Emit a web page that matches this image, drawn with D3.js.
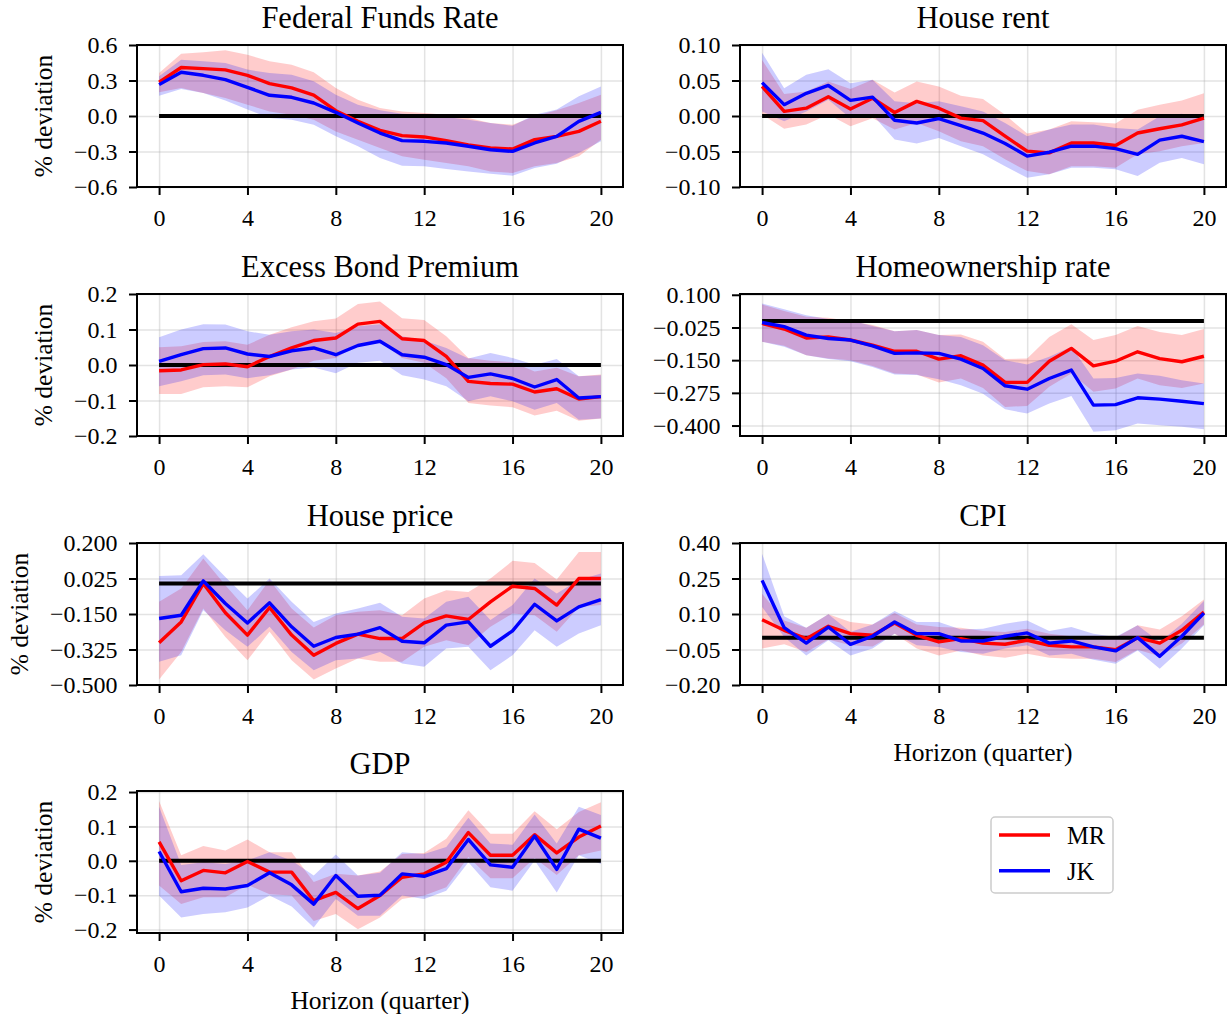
<!DOCTYPE html>
<html lang="en">
<head>
<meta charset="utf-8">
<title>impulse responses</title>
<script src="https://cdn.jsdelivr.net/npm/d3@7"></script>
<style>
  body { margin: 0; background: #fff; }
  svg { font-family: "Liberation Serif", "DejaVu Serif", serif; }
</style>
</head>
<body>
<script>
    // ---- data ----
    var horizons = [0, 1, 2, 3, 4, 5, 6, 7, 8, 9, 10, 11, 12, 13, 14, 15, 16, 17, 18, 19, 20];
    var xTicks = [0, 4, 8, 12, 16, 20];
    var seriesNames = ['MR', 'JK'];

    // Federal Funds Rate
    var ffrMR   = [0.285, 0.41, 0.40, 0.39, 0.344, 0.273, 0.237, 0.177, 0.045, -0.045, -0.121, -0.166, -0.177, -0.208, -0.245, -0.27, -0.279, -0.2, -0.172, -0.13, -0.045];
    var ffrMRhi = [0.363, 0.527, 0.538, 0.555, 0.518, 0.462, 0.434, 0.369, 0.237, 0.138, 0.068, 0.039, 0.025, 0.011, -0.017, -0.059, -0.073, -0.003, 0.048, 0.11, 0.18];
    var ffrMRlo = [0.2, 0.237, 0.194, 0.152, 0.096, 0.039, 0.011, -0.031, -0.13, -0.2, -0.27, -0.34, -0.369, -0.397, -0.425, -0.468, -0.482, -0.425, -0.397, -0.34, -0.2];
    var ffrJK   = [0.265, 0.37, 0.344, 0.307, 0.242, 0.175, 0.158, 0.11, 0.031, -0.059, -0.144, -0.208, -0.214, -0.228, -0.256, -0.285, -0.299, -0.228, -0.172, -0.045, 0.031];
    var ffrJKhi = [0.335, 0.476, 0.462, 0.448, 0.392, 0.363, 0.349, 0.293, 0.18, 0.096, 0.048, 0.02, 0.011, -0.008, -0.031, -0.059, -0.082, 0.011, 0.054, 0.166, 0.25];
    var ffrJKlo = [0.172, 0.228, 0.194, 0.13, 0.054, -0.017, -0.031, -0.073, -0.172, -0.256, -0.355, -0.42, -0.425, -0.448, -0.468, -0.487, -0.504, -0.439, -0.403, -0.313, -0.214];
    var ffrTicks = [-0.6, -0.3, 0, 0.3, 0.6];
    var ffrDomain = [-0.6, 0.6];

    // House rent
    var rentMR   = [0.0416, 0.0065, 0.011, 0.027, 0.0098, 0.025, 0.005, 0.0206, 0.011, -0.003, -0.0065, -0.0285, -0.0495, -0.052, -0.038, -0.038, -0.0416, -0.024, -0.018, -0.0126, -0.003];
    var rentMRhi = [0.079, 0.031, 0.0346, 0.0486, 0.0379, 0.051, 0.033, 0.0486, 0.0416, 0.0285, 0.0238, 0.0019, -0.0248, -0.019, -0.0075, -0.0089, -0.0107, 0.0089, 0.016, 0.022, 0.032];
    var rentMRlo = [0.002, -0.018, -0.012, 0.002, -0.0145, -0.003, -0.019, -0.0098, -0.0215, -0.0355, -0.0425, -0.061, -0.0776, -0.082, -0.0706, -0.0706, -0.073, -0.054, -0.0495, -0.0425, -0.038];
    var rentJK   = [0.047, 0.016, 0.032, 0.043, 0.022, 0.0266, -0.006, -0.0098, -0.0037, -0.0136, -0.024, -0.0388, -0.0565, -0.051, -0.0425, -0.0425, -0.046, -0.054, -0.034, -0.0285, -0.036];
    var rentJKhi = [0.089, 0.039, 0.058, 0.066, 0.046, 0.051, 0.0206, 0.018, 0.0206, 0.0136, 0.0065, -0.0098, -0.0285, -0.019, -0.012, -0.012, -0.0168, -0.019, -0.0005, 0.003, -0.003];
    var rentJKlo = [0.0065, -0.0075, 0.0065, 0.0229, -0.003, 0.0019, -0.033, -0.0388, -0.031, -0.0425, -0.054, -0.0706, -0.087, -0.082, -0.073, -0.073, -0.075, -0.0846, -0.066, -0.059, -0.068];
    var rentTicks = [-0.1, -0.05, 0, 0.05, 0.1];
    var rentDomain = [-0.1, 0.1];

    // Excess Bond Premium
    var ebpMR   = [-0.016, -0.014, 0.001, 0.003, -0.005, 0.024, 0.048, 0.069, 0.076, 0.115, 0.123, 0.074, 0.069, 0.024, -0.046, -0.052, -0.054, -0.076, -0.067, -0.096, -0.089];
    var ebpMRhi = [0.05, 0.053, 0.065, 0.067, 0.057, 0.085, 0.106, 0.123, 0.131, 0.172, 0.179, 0.132, 0.127, 0.081, 0.02, 0.012, 0.008, -0.018, -0.008, -0.032, -0.027];
    var ebpMRlo = [-0.082, -0.082, -0.063, -0.06, -0.063, -0.032, -0.013, 0.012, 0.02, 0.057, 0.067, 0.02, 0.006, -0.037, -0.107, -0.114, -0.119, -0.142, -0.129, -0.157, -0.151];
    var ebpJK   = [0.01, 0.029, 0.046, 0.048, 0.031, 0.024, 0.04, 0.048, 0.029, 0.055, 0.067, 0.029, 0.022, 0.001, -0.035, -0.025, -0.038, -0.062, -0.041, -0.093, -0.089];
    var ebpJKhi = [0.078, 0.1, 0.115, 0.114, 0.095, 0.085, 0.095, 0.1, 0.09, 0.109, 0.115, 0.081, 0.069, 0.048, 0.018, 0.034, 0.02, 0.001, 0.017, -0.032, -0.029];
    var ebpJKlo = [-0.06, -0.046, -0.029, -0.027, -0.037, -0.029, -0.013, -0.007, -0.023, 0.006, 0.012, -0.029, -0.041, -0.06, -0.102, -0.088, -0.102, -0.126, -0.107, -0.154, -0.151];
    var ebpTicks = [-0.2, -0.1, 0, 0.1, 0.2];
    var ebpDomain = [-0.2, 0.2];

    // Homeownership rate
    var homeMR   = [-0.0097, -0.031, -0.065, -0.061, -0.073, -0.093, -0.116, -0.116, -0.146, -0.133, -0.169, -0.235, -0.235, -0.154, -0.105, -0.172, -0.154, -0.118, -0.144, -0.156, -0.135];
    var homeMRhi = [0.063, 0.038, 0.016, 0.012, -0.001, -0.016, -0.039, -0.035, -0.054, -0.052, -0.08, -0.146, -0.144, -0.061, -0.013, -0.073, -0.054, -0.019, -0.042, -0.054, -0.031];
    var homeMRlo = [-0.08, -0.095, -0.131, -0.144, -0.15, -0.172, -0.201, -0.205, -0.235, -0.22, -0.256, -0.329, -0.325, -0.252, -0.201, -0.271, -0.258, -0.22, -0.246, -0.256, -0.239];
    var homeJK   = [-0.006, -0.022, -0.054, -0.067, -0.073, -0.095, -0.124, -0.122, -0.124, -0.146, -0.182, -0.248, -0.261, -0.22, -0.188, -0.322, -0.32, -0.294, -0.299, -0.307, -0.316];
    var homeJKhi = [0.067, 0.045, 0.022, 0.007, 0.003, -0.019, -0.039, -0.035, -0.054, -0.061, -0.093, -0.15, -0.167, -0.137, -0.099, -0.22, -0.218, -0.201, -0.21, -0.227, -0.239];
    var homeJKlo = [-0.08, -0.099, -0.131, -0.146, -0.154, -0.176, -0.205, -0.207, -0.223, -0.246, -0.278, -0.338, -0.354, -0.316, -0.287, -0.424, -0.418, -0.392, -0.399, -0.405, -0.414];
    var homeTicks = [-0.4, -0.275, -0.15, -0.025, 0.1];
    var homeDomain = [-0.44, 0.103];

    // House price
    var hpMR   = [-0.292, -0.189, 0.0, -0.144, -0.254, -0.118, -0.254, -0.353, -0.295, -0.249, -0.271, -0.271, -0.194, -0.159, -0.177, -0.09, -0.013, -0.024, -0.106, 0.025, 0.025];
    var hpMRhi = [-0.09, -0.024, 0.124, -0.008, -0.131, 0.017, -0.123, -0.217, -0.156, -0.139, -0.131, -0.156, -0.074, -0.033, -0.041, 0.025, 0.112, 0.102, 0.02, 0.156, 0.156];
    var hpMRlo = [-0.473, -0.337, -0.123, -0.263, -0.378, -0.238, -0.378, -0.473, -0.419, -0.369, -0.386, -0.386, -0.312, -0.279, -0.304, -0.213, -0.148, -0.156, -0.238, -0.115, -0.106];
    var hpJK   = [-0.172, -0.156, 0.0135, -0.098, -0.194, -0.095, -0.213, -0.309, -0.266, -0.249, -0.217, -0.284, -0.292, -0.205, -0.189, -0.309, -0.233, -0.102, -0.184, -0.115, -0.079];
    var hpJKhi = [0.037, 0.041, 0.145, 0.033, -0.074, 0.025, -0.09, -0.189, -0.148, -0.123, -0.095, -0.164, -0.172, -0.09, -0.065, -0.18, -0.106, 0.025, -0.049, 0.017, 0.05];
    var hpJKlo = [-0.386, -0.353, -0.131, -0.23, -0.312, -0.213, -0.337, -0.427, -0.378, -0.369, -0.337, -0.394, -0.41, -0.32, -0.312, -0.427, -0.353, -0.23, -0.312, -0.246, -0.205];
    var hpTicks = [-0.5, -0.325, -0.15, 0.025, 0.2];
    var hpDomain = [-0.5, 0.2];

    // CPI
    var cpiMR   = [0.076, 0.031, -0.004, 0.048, 0.017, 0.01, 0.062, 0.01, -0.018, -0.004, -0.023, -0.028, -0.011, -0.032, -0.039, -0.039, -0.051, 0.0, -0.023, 0.031, 0.108];
    var cpiMRhi = [0.186, 0.073, 0.042, 0.099, 0.066, 0.056, 0.104, 0.056, 0.045, 0.042, 0.028, 0.024, 0.038, 0.017, 0.006, 0.006, 0.0, 0.052, 0.034, 0.09, 0.161];
    var cpiMRlo = [-0.046, -0.028, -0.061, -0.008, -0.032, -0.037, 0.017, -0.046, -0.075, -0.054, -0.075, -0.085, -0.068, -0.085, -0.089, -0.089, -0.103, -0.051, -0.079, -0.025, 0.056];
    var cpiJK   = [0.242, 0.042, -0.023, 0.045, -0.028, 0.006, 0.066, 0.017, 0.017, -0.014, -0.014, 0.006, 0.02, -0.023, -0.014, -0.039, -0.056, 0.0, -0.079, 0.006, 0.104];
    var cpiJKhi = [0.355, 0.09, 0.042, 0.099, 0.024, 0.056, 0.113, 0.066, 0.066, 0.034, 0.038, 0.059, 0.073, 0.028, 0.045, 0.017, 0.003, 0.052, -0.018, 0.059, 0.155];
    var cpiJKlo = [0.13, 0.003, -0.075, -0.011, -0.075, -0.046, 0.017, -0.032, -0.039, -0.061, -0.068, -0.046, -0.032, -0.075, -0.068, -0.093, -0.11, -0.054, -0.131, -0.046, 0.052];
    var cpiTicks = [-0.2, -0.05, 0.1, 0.25, 0.4];
    var cpiDomain = [-0.2, 0.4];

    // GDP
    var gdpMR   = [0.055, -0.058, -0.028, -0.035, -0.002, -0.033, -0.033, -0.116, -0.092, -0.139, -0.101, -0.048, -0.038, -0.004, 0.082, 0.016, 0.016, 0.076, 0.023, 0.069, 0.101];
    var gdpMRhi = [0.174, 0.016, 0.043, 0.03, 0.062, 0.025, 0.025, -0.062, -0.038, -0.043, -0.031, 0.02, 0.023, 0.064, 0.147, 0.079, 0.079, 0.144, 0.092, 0.142, 0.17];
    var gdpMRlo = [-0.072, -0.126, -0.106, -0.106, -0.07, -0.097, -0.101, -0.175, -0.155, -0.199, -0.165, -0.111, -0.101, -0.077, 0.011, -0.051, -0.051, 0.008, -0.041, 0.016, 0.03];
    var gdpJK   = [0.027, -0.09, -0.08, -0.082, -0.072, -0.035, -0.07, -0.126, -0.043, -0.103, -0.1, -0.038, -0.045, -0.023, 0.062, -0.012, -0.019, 0.072, -0.025, 0.092, 0.066];
    var gdpJKhi = [0.157, -0.012, -0.004, -0.009, 0.001, 0.025, 0.001, -0.043, 0.018, -0.043, -0.035, 0.025, 0.02, 0.04, 0.125, 0.05, 0.047, 0.135, 0.05, 0.157, 0.133];
    var gdpJKlo = [-0.101, -0.165, -0.155, -0.15, -0.136, -0.101, -0.133, -0.194, -0.111, -0.16, -0.16, -0.101, -0.111, -0.087, -0.004, -0.077, -0.087, 0.001, -0.092, 0.016, -0.009];
    var gdpTicks = [-0.2, -0.1, 0, 0.1, 0.2];
    var gdpDomain = [-0.21, 0.203];

    // ---- layout ----
    var svgWidth = 1230, svgHeight = 1014;
    var colLeft = [137, 740], plotW = 486, plotH = 142;
    var rowTop = [45, 294, 543, 791];
    var xDomain = [-1, 21];
    var color = d3.scaleOrdinal(seriesNames, ['#ff0000', '#0000ff']);

    var panels = [
        { title: 'Federal Funds Rate', row: 0, col: 0, domain: ffrDomain, ticks: ffrTicks, fmt: '.1f',
          mr: ffrMR, mrLo: ffrMRlo, mrHi: ffrMRhi, jk: ffrJK, jkLo: ffrJKlo, jkHi: ffrJKhi, ylabel: true },
        { title: 'House rent', row: 0, col: 1, domain: rentDomain, ticks: rentTicks, fmt: '.2f',
          mr: rentMR, mrLo: rentMRlo, mrHi: rentMRhi, jk: rentJK, jkLo: rentJKlo, jkHi: rentJKhi },
        { title: 'Excess Bond Premium', row: 1, col: 0, domain: ebpDomain, ticks: ebpTicks, fmt: '.1f',
          mr: ebpMR, mrLo: ebpMRlo, mrHi: ebpMRhi, jk: ebpJK, jkLo: ebpJKlo, jkHi: ebpJKhi, ylabel: true },
        { title: 'Homeownership rate', row: 1, col: 1, domain: homeDomain, ticks: homeTicks, fmt: '.3f',
          mr: homeMR, mrLo: homeMRlo, mrHi: homeMRhi, jk: homeJK, jkLo: homeJKlo, jkHi: homeJKhi },
        { title: 'House price', row: 2, col: 0, domain: hpDomain, ticks: hpTicks, fmt: '.3f',
          mr: hpMR, mrLo: hpMRlo, mrHi: hpMRhi, jk: hpJK, jkLo: hpJKlo, jkHi: hpJKhi, ylabel: true },
        { title: 'CPI', row: 2, col: 1, domain: cpiDomain, ticks: cpiTicks, fmt: '.2f',
          mr: cpiMR, mrLo: cpiMRlo, mrHi: cpiMRhi, jk: cpiJK, jkLo: cpiJKlo, jkHi: cpiJKhi, xlabel: true },
        { title: 'GDP', row: 3, col: 0, domain: gdpDomain, ticks: gdpTicks, fmt: '.1f',
          mr: gdpMR, mrLo: gdpMRlo, mrHi: gdpMRhi, jk: gdpJK, jkLo: gdpJKlo, jkHi: gdpJKhi, ylabel: true, xlabel: true }
    ];

    var svg = d3.select('body')
        .append('svg')
        .attr('width', svgWidth)
        .attr('height', svgHeight);

    function styleAxis(a) {
        a.select('.domain').remove();
        a.attr('font-size', 24).attr('font-family', null);
        a.selectAll('line').attr('stroke', '#000').attr('stroke-width', 2);
        a.selectAll('text').attr('fill', '#000');
    }

    function drawPanel(p) {
        var g = svg.append('g')
            .attr('transform', `translate(${colLeft[p.col]}, ${rowTop[p.row]})`);

        var x = d3.scaleLinear().domain(xDomain).range([0, plotW]);
        var y = d3.scaleLinear().domain(p.domain).range([plotH, 0]);

        // grid
        g.append('g')
            .call(d3.axisBottom(x).tickValues(xTicks).tickSize(plotH).tickFormat(''))
            .call(a => a.select('.domain').remove())
            .selectAll('line').attr('stroke', '#b0b0b0').attr('stroke-opacity', 0.35).attr('stroke-width', 1.5);
        g.append('g')
            .call(d3.axisLeft(y).tickValues(p.ticks).tickSize(-plotW).tickFormat(''))
            .call(a => a.select('.domain').remove())
            .selectAll('line').attr('stroke', '#b0b0b0').attr('stroke-opacity', 0.35).attr('stroke-width', 1.5);

        var area = d3.area()
            .x((d, i) => x(horizons[i]))
            .y0(d => y(d[0]))
            .y1(d => y(d[1]));
        var line = d3.line()
            .x((d, i) => x(horizons[i]))
            .y(d => y(d));

        // confidence bands
        g.append('path').attr('d', area(d3.zip(p.mrLo, p.mrHi)))
            .attr('fill', color('MR')).attr('fill-opacity', 0.2);
        g.append('path').attr('d', area(d3.zip(p.jkLo, p.jkHi)))
            .attr('fill', color('JK')).attr('fill-opacity', 0.2);

        // zero line
        g.append('line')
            .attr('x1', x(horizons[0])).attr('x2', x(horizons[horizons.length - 1]))
            .attr('y1', y(0)).attr('y2', y(0))
            .attr('stroke', '#000').attr('stroke-width', 4);

        g.append('path').attr('d', line(p.mr))
            .attr('fill', 'none').attr('stroke', color('MR')).attr('stroke-width', 3.4)
            .attr('stroke-linejoin', 'round');
        g.append('path').attr('d', line(p.jk))
            .attr('fill', 'none').attr('stroke', color('JK')).attr('stroke-width', 3.4)
            .attr('stroke-linejoin', 'round');

        // frame
        g.append('rect')
            .attr('width', plotW).attr('height', plotH)
            .attr('fill', 'none').attr('stroke', '#000').attr('stroke-width', 2);

        // axes
        var yAxisG = g.append('g')
            .call(d3.axisLeft(y).tickValues(p.ticks).tickFormat(d3.format(p.fmt))
                .tickSize(8).tickPadding(11.5).tickSizeOuter(0))
            .call(styleAxis);
        g.append('g')
            .attr('transform', `translate(0, ${plotH})`)
            .call(d3.axisBottom(x).tickValues(xTicks).tickFormat(d3.format('d'))
                .tickSize(8).tickPadding(13.5).tickSizeOuter(0))
            .call(styleAxis);

        // title
        g.append('text')
            .attr('x', plotW / 2).attr('y', -16.7)
            .attr('text-anchor', 'middle')
            .attr('font-size', 30.5)
            .text(p.title);

        if (p.ylabel) {
            var bb = yAxisG.node().getBBox();
            g.append('text')
                .attr('transform', `translate(${bb.x - 30}, ${plotH / 2}) rotate(-90)`)
                .attr('text-anchor', 'middle')
                .attr('dominant-baseline', 'central')
                .attr('font-size', 25.5)
                .text('% deviation');
        }
        if (p.xlabel) {
            g.append('text')
                .attr('x', plotW / 2).attr('y', plotH + 76)
                .attr('text-anchor', 'middle')
                .attr('font-size', 25.5)
                .text('Horizon (quarter)');
        }
    }

    function drawLegend() {
        var lg = svg.append('g').attr('transform', 'translate(991, 817)');
        lg.append('rect')
            .attr('width', 122).attr('height', 76).attr('rx', 4)
            .attr('fill', '#fff').attr('stroke', '#cccccc').attr('stroke-width', 1.5);
        var item = lg.selectAll('g.item')
            .data(seriesNames)
            .enter().append('g')
            .attr('class', 'item')
            .attr('transform', (d, i) => `translate(0, ${18 + i * 35.7})`);
        item.append('line')
            .attr('x1', 8).attr('x2', 59)
            .attr('stroke', d => color(d)).attr('stroke-width', 3.5);
        item.append('text')
            .attr('x', 76).attr('y', 9.3)
            .attr('font-size', 24.5)
            .text(d => d);
    }

    panels.forEach(drawPanel);
    drawLegend();
</script>
</body>
</html>
